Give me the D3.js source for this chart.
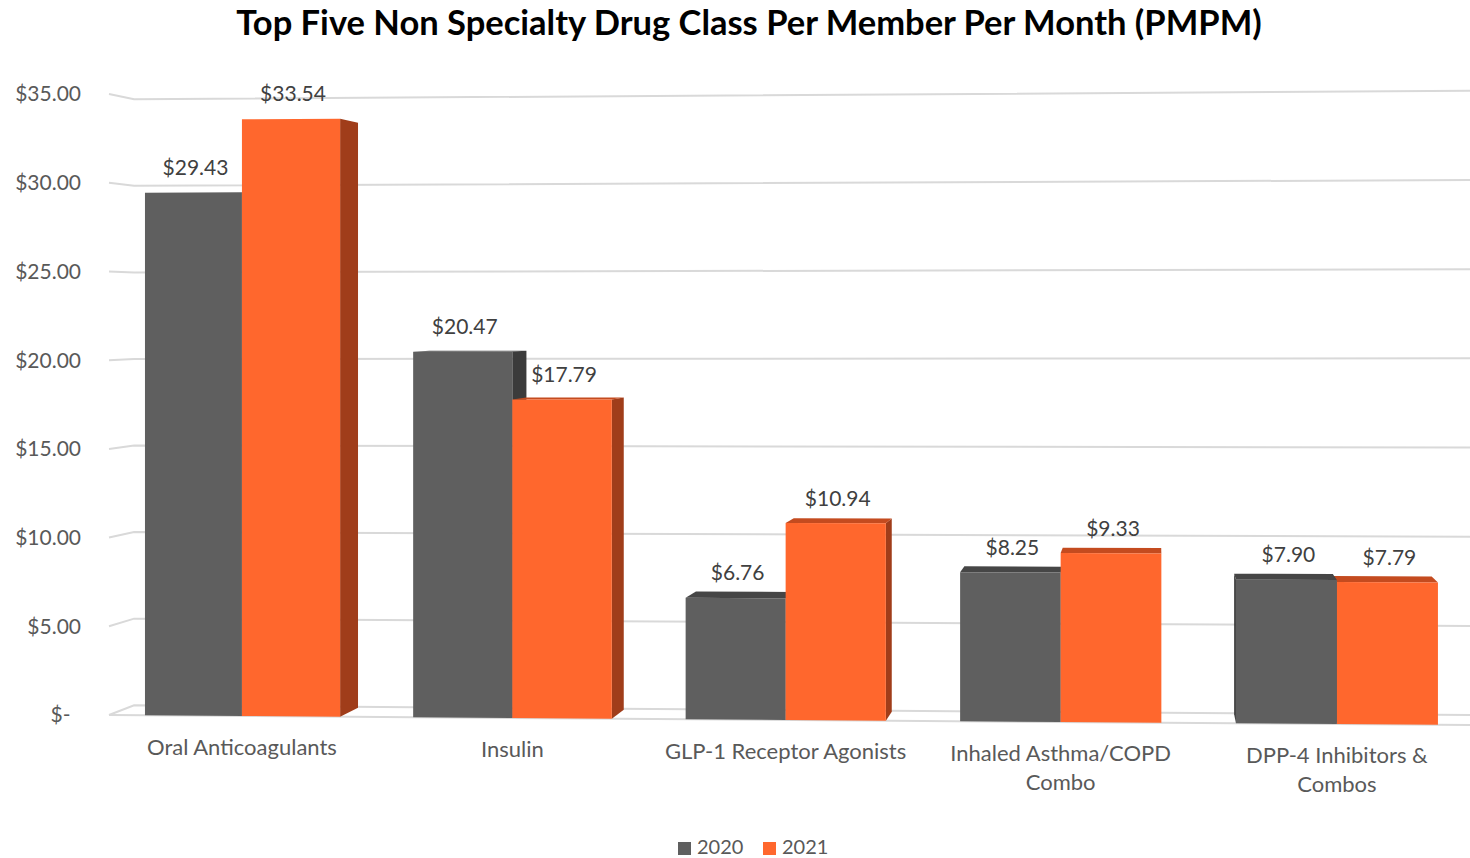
<!DOCTYPE html>
<html>
<head>
<meta charset="utf-8">
<script src="https://cdn.jsdelivr.net/npm/d3@7"></script>
<style>
  html, body { margin: 0; padding: 0; background: #ffffff; }
  svg { display: block; }
</style>
</head>
<body>
<svg id="chart" width="1470" height="858"></svg>
<script>
// ---------- data ----------
const categories = ["Oral Anticoagulants", "Insulin", "GLP-1 Receptor Agonists", "Inhaled Asthma/COPD Combo", "DPP-4 Inhibitors & Combos"];
const categoryLines = [["Oral Anticoagulants"], ["Insulin"], ["GLP-1 Receptor Agonists"], ["Inhaled Asthma/COPD", "Combo"], ["DPP-4 Inhibitors &", "Combos"]];
const seriesNames = ["2020", "2021"];
const values2020 = [29.43, 20.47, 6.76, 8.25, 7.90];
const values2021 = [33.54, 17.79, 10.94, 9.33, 7.79];
const tickValues = [0, 5, 10, 15, 20, 25, 30, 35];
const tickLabels = ["$-\u2002", "$5.00", "$10.00", "$15.00", "$20.00", "$25.00", "$30.00", "$35.00"];
const title = "Top Five Non Specialty Drug Class Per Member Per Month (PMPM)";

// ---------- styles ----------
const colors = {
  "2020": { front: "#5f5f5f", side: "#3b3b3b", top: "#464646" },
  "2021": { front: "#ff672d", side: "#a03d1a", top: "#c44b1f" }
};
const gridColor = "#d9d9d9";
const FONT = "Lato, 'Noto Sans', sans-serif";

const svg = d3.select("#chart");

// ---------- projection (front plane + perspective depth) ----------
const xLeft = 109, xRight = 1470;
const yFrontLeft = d3.scaleLinear().domain([0, 35]).range([715, 94.1]);
const yFrontRight = d3.scaleLinear().domain([0, 35]).range([725, 725 - 35 * 18.27]);
const xFrac = d3.scaleLinear().domain([xLeft, xRight]).range([0, 1]);
function yAt(x, v) { return d3.interpolateNumber(yFrontLeft(v), yFrontRight(v))(xFrac(x)); }
function front(x, v) { return [x, yAt(x, v)]; }
const VP = [1154, 308];
const BAR_T = 0.978, WALL_T = 0.976;
function back(p, t) { return [VP[0] + (p[0] - VP[0]) * t, VP[1] + (p[1] - VP[1]) * t]; }

// category bands in "world" units, then a slight perspective warp to screen x
const x0 = d3.scaleBand().domain(categories).range([0, 1365]).paddingInner(0.27).paddingOuter(0.135);
const x1 = d3.scaleBand().domain(seriesNames).range([0, x0.bandwidth()]).padding(0);
const xWarp = d3.scalePow().exponent(1.015).domain([0, 1365]).range([110.05, 1475.35]);

const line = d3.line();

// ---------- back wall gridlines & left wall ----------
const grid = svg.append("g");
tickValues.forEach(v => {
  const fl = front(xLeft, v);
  const bl = back(fl, WALL_T);
  const br = back(front(1480, v), WALL_T);
  grid.append("path").attr("d", line([fl, bl, br]))
    .attr("fill", "none").attr("stroke", gridColor).attr("stroke-width", 2);
});
// front floor edge
grid.append("path").attr("d", line([front(xLeft, 0), front(xRight, 0)]))
  .attr("fill", "none").attr("stroke", gridColor).attr("stroke-width", 2);

// tick labels
svg.append("g").selectAll("text").data(tickValues).join("text")
  .attr("x", 81).attr("y", v => yAt(xLeft, v))
  .attr("dy", "0.35em")
  .attr("text-anchor", "end")
  .attr("font-family", FONT)
  .attr("font-size", 21).attr("fill", "#595959")
  .text((v, i) => tickLabels[i]);

// ---------- bars ----------
const bars = [];
categories.forEach((c, i) => {
  [values2020[i], values2021[i]].forEach((v, j) => {
    const s = seriesNames[j];
    const ua = x0(c) + x1(s);
    const xa = xWarp(ua), xb = xWarp(ua + x1.bandwidth());
    bars.push({ c, s, v, xa, xb, cx: (xa + xb) / 2 });
  });
});
bars.sort((a, b) => Math.abs(b.cx - VP[0]) - Math.abs(a.cx - VP[0]));

const gBars = svg.append("g");
bars.forEach(b => {
  const col = colors[b.s];
  const FLb = front(b.xa, 0), FRb = front(b.xb, 0), FLt = front(b.xa, b.v), FRt = front(b.xb, b.v);
  const poly = pts => gBars.append("path").attr("d", line(pts) + "Z");
  if (b.xb < VP[0]) {
    poly([FRt, FRb, back(FRb, BAR_T), back(FRt, BAR_T)]).attr("fill", col.side);
  }
  if (b.xa > VP[0]) {
    poly([FLt, FLb, back(FLb, BAR_T), back(FLt, BAR_T)]).attr("fill", col.side);
  }
  if (FLt[1] > VP[1]) {
    poly([FLt, FRt, back(FRt, BAR_T), back(FLt, BAR_T)]).attr("fill", col.top);
  }
  poly([FLb, FRb, FRt, FLt]).attr("fill", col.front);
  b.labelX = b.cx + 2;
  b.labelY = yAt(b.cx, b.v) - 25;
});

// value labels
svg.append("g").selectAll("text").data(bars).join("text")
  .attr("x", d => d.labelX).attr("y", d => d.labelY)
  .attr("dy", "0.35em").attr("text-anchor", "middle")
  .attr("font-family", FONT)
  .attr("font-size", 21).attr("fill", "#404040")
  .text(d => "$" + d3.format(".2f")(d.v));

// category labels
const gx = svg.append("g");
categories.forEach((c, i) => {
  const cx = xWarp(x0(c) + x0.bandwidth() / 2);
  const base = yAt(cx, 0) + 39;
  const t = gx.append("text")
    .attr("text-anchor", "middle")
    .attr("font-family", FONT)
    .attr("font-size", 22).attr("fill", "#595959");
  categoryLines[i].forEach((ln, k) => {
    t.append("tspan").attr("x", cx).attr("y", base + k * 29).text(ln);
  });
});

// title
const tt = svg.append("text")
  .attr("x", 749).attr("y", 35)
  .attr("text-anchor", "middle")
  .attr("font-family", FONT)
  .attr("font-weight", 700)
  .attr("font-size", 32).attr("fill", "#000000")
  .text(title);
const tw = tt.node().getComputedTextLength();
tt.attr("font-size", 32 * 1026 / tw);

// legend
const legend = svg.append("g");
const legendX = [678, 763];
seriesNames.forEach((s, i) => {
  legend.append("rect").attr("x", legendX[i]).attr("y", 842).attr("width", 13).attr("height", 13)
    .attr("fill", colors[s].front);
  legend.append("text").attr("x", legendX[i] + 19).attr("y", 854)
    .attr("font-family", FONT)
    .attr("font-size", 20).attr("fill", "#595959").text(s);
});
</script>
</body>
</html>
